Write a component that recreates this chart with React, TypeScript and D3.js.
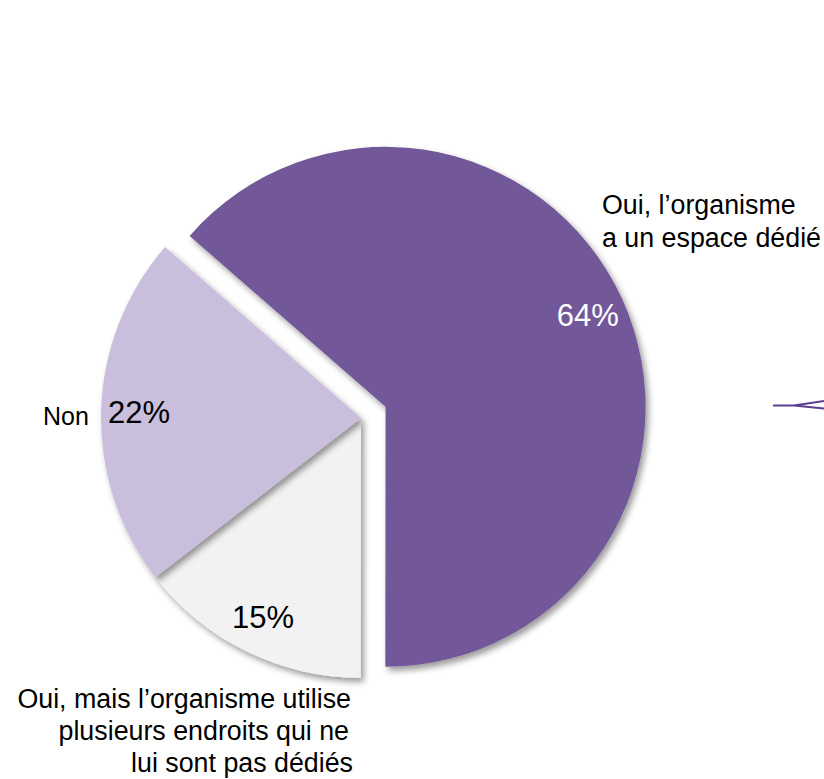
import React from "react";
import * as d3 from "d3";

const categories = [
  "Oui, l’organisme a un espace dédié",
  "Oui, mais l’organisme utilise plusieurs endroits qui ne lui sont pas dédiés",
  "Non",
];
const values = [63.6, 14.5, 21.9];
const colors = ["#725898", "#F2F2F2", "#C9BEDC"];
const labelColors = ["#FFFFFF", "#000000", "#000000"];
const explode = [27, 0, 0];

const W = 824;
const H = 779;
const cx = 361;
const cy = 418;
const R = 260;
const labelR = 222;
const startDeg = -48.9;

export default function App() {
  const pie = d3
    .pie<number>()
    .sort(null)
    .value((d) => d)
    .startAngle((startDeg * Math.PI) / 180)
    .endAngle((startDeg * Math.PI) / 180 + 2 * Math.PI);
  const arcs = pie(values);
  const arc = d3.arc<d3.PieArcDatum<number>>().innerRadius(0).outerRadius(R);
  const labelArc = d3
    .arc<d3.PieArcDatum<number>>()
    .innerRadius(labelR)
    .outerRadius(labelR);

  const off = (a: d3.PieArcDatum<number>, i: number) => {
    const m = (a.startAngle + a.endAngle) / 2;
    return [explode[i] * Math.sin(m), -explode[i] * Math.cos(m)];
  };

  const font = "'Liberation Sans', Arial, sans-serif";

  return (
    <div style={{ position: "absolute", left: 0, top: 0 }}>
      <svg width={W} height={H} style={{ display: "block" }}>
        <defs>
          <filter id="sh" x="-20%" y="-20%" width="140%" height="140%">
            <feDropShadow dx="3" dy="4" stdDeviation="3" floodColor="#000" floodOpacity="0.4" />
          </filter>
        </defs>
        <rect width={W} height={H} fill="#fff" />
        <g transform={`translate(${cx},${cy})`}>
          {arcs.map((a, i) => {
            const [dx, dy] = off(a, i);
            return (
              <path
                key={i}
                d={arc(a) || ""}
                transform={`translate(${dx},${dy})`}
                fill={colors[i]}
                filter="url(#sh)"
              />
            );
          })}
          {arcs.map((a, i) => {
            const [dx, dy] = off(a, i);
            const [lx, ly] = labelArc.centroid(a);
            return (
              <text
                key={"l" + i}
                x={lx + dx}
                y={ly + dy}
                dy="0.36em"
                textAnchor="middle"
                fontFamily={font}
                fontSize={31}
                fill={labelColors[i]}
              >
                {Math.round(values[i])}%
              </text>
            );
          })}
        </g>
        <text fontFamily={font} fontSize={26.8} fill="#000">
          <tspan x={602} y={214}>Oui, l’organisme</tspan>
          <tspan x={602} y={247}>a un espace dédié</tspan>
        </text>
        <text fontFamily={font} fontSize={26.8} fill="#000" textAnchor="end">
          <tspan x={351} y={708}>Oui, mais l’organisme utilise</tspan>
          <tspan x={349} y={740}>plusieurs endroits qui ne</tspan>
          <tspan x={353} y={772}>lui sont pas dédiés</tspan>
        </text>
        <text x={43} y={425} fontFamily={font} fontSize={25} fill="#000">
          {categories[2]}
        </text>
        <path
          d="M773,405.5 L794,405.5 L824,401 M794,405.5 L824,408.5"
          fill="none"
          stroke="#5B3F8F"
          strokeWidth={2.2}
        />
      </svg>
    </div>
  );
}
